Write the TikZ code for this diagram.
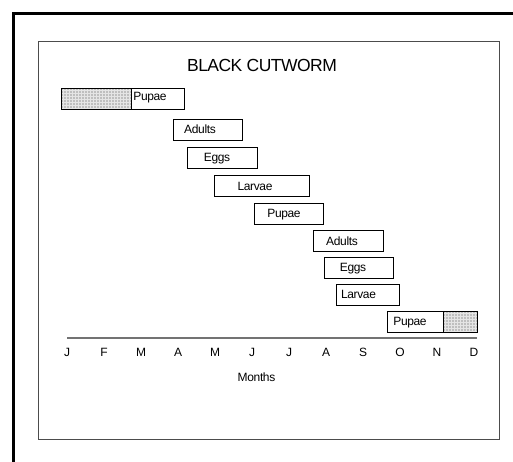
\documentclass[tikz,border=0pt]{standalone}
\usepackage{fontspec}
\setmainfont{Liberation Sans}[LetterSpace=-3]
\begin{document}
\begin{tikzpicture}[x=1pt,y=-1pt,
  frame/.style={line width=3pt, black},
  panel/.style={draw=black!70, line width=1pt},
  bar/.style={draw=black, line width=0.8pt, fill=white, inner sep=0pt, anchor=north west, minimum height=21pt},
  hatch/.style={bar, fill=gray!50, path picture={\draw[white!80!gray, line width=0.5pt, step=3pt] (path picture bounding box.south west) grid (path picture bounding box.north east);}},
  lbl/.style={font=\fontsize{12}{14}\selectfont, inner sep=0pt, anchor=base},
  month/.style={font=\fontsize{12}{14}\selectfont, inner sep=0pt, anchor=base},
  axis/.style={draw=black!55, line width=1.8pt}
]
\useasboundingbox (0,0) rectangle (513,462);
% outer frame (partial)
\draw[frame] (13.5,462) -- (13.5,13.5) -- (513,13.5);
% inner panel
\node[panel, inner sep=0pt, anchor=north west, minimum width=461.5pt, minimum height=397.5pt] (panelbox) at (37.5,41) {};
% title
\node[font=\fontsize{17.5}{20}\selectfont, inner sep=0pt, anchor=base] (title) at (262,72) {BLACK CUTWORM};

% row 1
\node[hatch, minimum width=70pt] (h1) at (61,88) {};
\node[bar, minimum width=53pt] (b1) at (131,88) {};
\node[lbl] (l1) at (150,101) {Pupae};
% row 2
\node[bar, minimum width=69pt] (b2) at (173,119) {};
\node[lbl] (l2) at (200,134) {Adults};
% row 3
\node[bar, minimum width=70pt] (b3) at (187,147) {};
\node[lbl] (l3) at (217,162) {Eggs};
% row 4
\node[bar, minimum width=95pt] (b4) at (214,175) {};
\node[lbl] (l4) at (255,190) {Larvae};
% row 5
\node[bar, minimum width=69pt] (b5) at (254,203) {};
\node[lbl] (l5) at (284,218) {Pupae};
% row 6
\node[bar, minimum width=70pt] (b6) at (313,230) {};
\node[lbl] (l6) at (342,245) {Adults};
% row 7
\node[bar, minimum width=69pt] (b7) at (324,257) {};
\node[lbl] (l7) at (353,271.5) {Eggs};
% row 8
\node[bar, minimum width=63pt] (b8) at (336,284) {};
\node[lbl] (l8) at (358.5,298.5) {Larvae};
% row 9
\node[bar, minimum width=56pt] (b9) at (387,311) {};
\node[hatch, minimum width=34pt] (h9) at (443,311) {};
\node[lbl] (l9) at (410,325.5) {Pupae};

% axis
\coordinate (ax0) at (67,338);
\coordinate (ax1) at (477,338);
\draw[axis] (ax0) -- (ax1);
\foreach \m [count=\i from 0] in {J,F,M,A,M,J,J,A,S,O,N,D}{
  \node[month] (m\i) at (67+37*\i,356) {\m};
}
\node[month] (months) at (256.5,381) {Months};
\end{tikzpicture}
\end{document}
